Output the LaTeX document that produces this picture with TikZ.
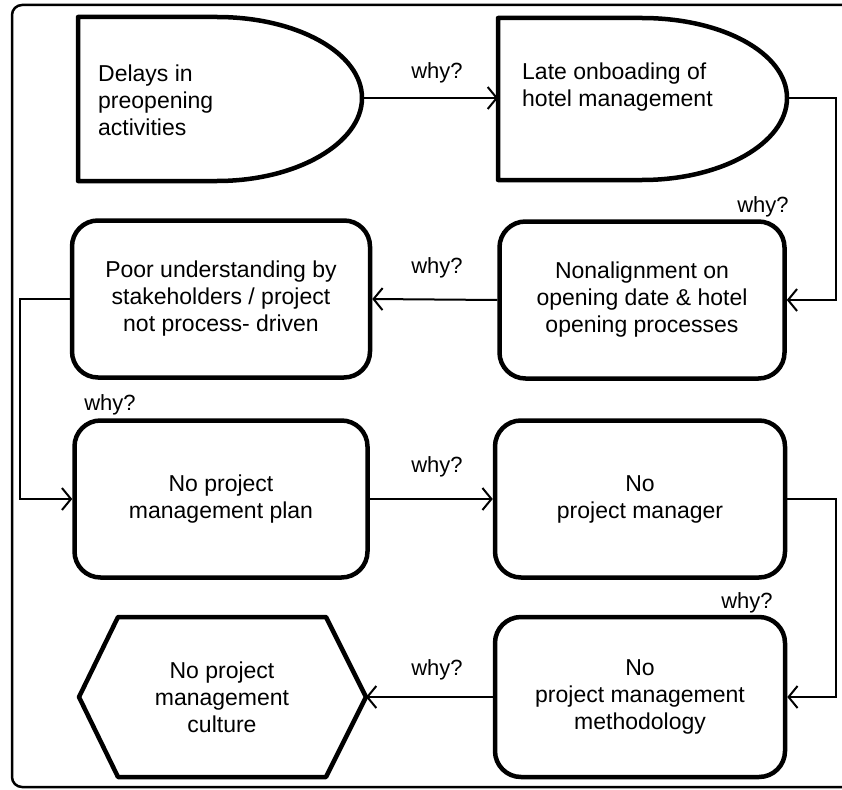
\documentclass[tikz,border=0pt]{standalone}
\usepackage{fontspec}
\setmainfont{Liberation Sans}
\usetikzlibrary{arrows.meta}
\begin{document}
\begin{tikzpicture}[x=1pt,y=-1pt,
  shp/.style={line width=4.5pt, line join=round},
  box/.style={draw, line width=4.5pt, rounded corners=26pt, minimum width=#1, minimum height=157pt, align=center, inner sep=0pt, font=\fontsize{23}{27}\selectfont},
  txt/.style={font=\fontsize{23}{27}\selectfont, inner sep=0pt},
  conn/.style={line width=2pt, -{Straight Barb[length=9pt,width=22pt,line width=2pt]}},
  why/.style={font=\fontsize{22}{26}\selectfont, inner sep=0pt}]
\useasboundingbox (0,0) rectangle (842,789);
\fill[white] (0,0) rectangle (842,789);
% frame
\draw[line width=2.5pt, rounded corners=10pt] (846,5) -| (12,787) -- (846,787);

% D shape 1
\draw[shp] (78,17) -- (217,17) .. controls (297,17) and (362,53) .. (362,98)
  .. controls (362,143) and (297,181) .. (217,181) -- (78,181) -- cycle;
\coordinate (d1tip) at (362,98);
\node[txt, align=left, anchor=west] (d1) at (98,100) {Delays in\\preopening\\activities};

% D shape 2
\draw[shp] (498,18) -- (642,18) .. controls (722,18) and (787,53) .. (787,98)
  .. controls (787,143) and (722,180) .. (642,180) -- (498,180) -- cycle;
\coordinate (d2tip) at (787,98);
\coordinate (d2in) at (498,98);
\node[txt, align=left, anchor=west] (d2) at (522,87) {Late onboading of\\hotel management};

% row 2
\node[box=298pt] (b3) at (221,299) {Poor understanding by\\stakeholders / project\\not process- driven};
\node[box=285pt] (b4) at (642,300) {Nonalignment on\\opening date \& hotel\\opening processes};
% row 3
\node[box=293pt] (b5) at (221,499) {No project\\management plan};
\node[box=290pt] (b6) at (640,499) {No\\project manager};
% row 4
\draw[shp] (79,697) -- (118,617) -- (326,617) -- (366,697) -- (326,777) -- (118,777) -- cycle;
\coordinate (hexr) at (366,697);
\node[txt, align=center] (hx) at (222,697) {No project\\management\\culture};
\node[box=290pt, minimum height=160pt] (b7) at (640,697) {No\\project management\\methodology};

% connectors
\coordinate (c2) at (836,98);
\coordinate (c4) at (20,299);
\coordinate (c6) at (836,499);
\draw[conn] (d1tip) -- (d2in);
\draw[conn] (d2tip) -- (c2) |- (b4.east);
\draw[conn] (b4.west) -- (b3.east);
\draw[conn] (b3.west) -- (c4) |- (b5.west);
\draw[conn] (b5.east) -- (b6.west);
\draw[conn] (b6.east) -- (c6) |- (b7.east);
\draw[conn] (b7.west) -- (hexr);

% labels
\node[why] (w1) at (437,73) {why?};
\node[why] (w2) at (763,207) {why?};
\node[why] (w3) at (437,268) {why?};
\node[why] (w4) at (110,405) {why?};
\node[why] (w5) at (437,467) {why?};
\node[why] (w6) at (747,603) {why?};
\node[why] (w7) at (437,670) {why?};
\end{tikzpicture}
\end{document}
